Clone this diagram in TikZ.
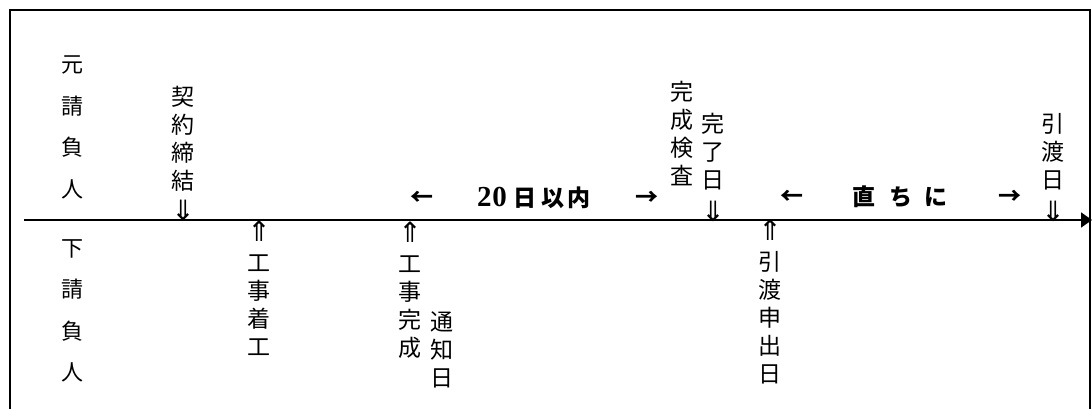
\documentclass[tikz,border=0pt]{standalone}
\usepackage{fontspec}
\usetikzlibrary{arrows.meta}
\newfontfamily\jp{Noto Sans CJK JP}
\newfontfamily\digf{Liberation Serif}
\newfontfamily\symf{DejaVu Sans}
\tikzset{
  frame/.style={line width=1.6pt},
  timeline/.style={line width=1.8pt,-{Triangle[length=11pt,width=15pt]}},
  col/.style={font=\jp\fontsize{23}{28}\selectfont, align=center, inner sep=0pt, text width=26pt},
  party/.style={col, font=\jp\fontsize{22}{41.5}\selectfont},
  darrow/.style={font=\symf\fontsize{28}{28}\selectfont, inner sep=0pt},
  span/.style={font=\jp\bfseries\fontsize{23}{23}\selectfont, inner sep=0pt},
}
\begin{document}
\begin{tikzpicture}[x=1pt,y=-1pt]
\useasboundingbox (0,0) rectangle (1092,409);
\draw[frame] (10,409) -- (10,10) -- (1090,10) -- (1090,409);
\coordinate (t0) at (24,220);
\coordinate (t1) at (1092,220);
\draw[timeline] (t0) -- (t1);
% parties
\node[party] (moto) at (72,127.5) {元\\請\\負\\人};
\node[party] (shita) at (72,311) {下\\請\\負\\人};
% contract
\node[col] (keiyaku) at (183,138.5) {契\\約\\締\\結};
\node[darrow] (a1) at (183,210) {⇓};
% start of work
\node[darrow] (a2) at (259,231) {⇑};
\node[col] (chakko) at (259,305.5) {工\\事\\着\\工};
% completion notice
\node[darrow] (a3) at (410,232) {⇑};
\node[col] (kansei) at (410,307.5) {工\\事\\完\\成};
\node[col] (tsuchi) at (442,349.5) {通\\知\\日};
% 20 days
\node[span] (l1) at (422,198) {←};
\node[span] (d20) at (534,198) {{\digf\bfseries\fontsize{29}{29}\selectfont 2\hspace{1pt}0}\hspace{6pt}日\hspace{6pt}以\hspace{3pt}内};
\node[span] (r1) at (647,198) {→};
% inspection
\node[col] (kensa) at (682,134) {完\\成\\検\\査};
\node[col] (kanryo) at (713,151.5) {完\\了\\日};
\node[darrow] (a4) at (713,211) {⇓};
% handover request
\node[darrow] (a5) at (770,230) {⇑};
\node[col] (moshide) at (770,318) {引\\渡\\申\\出\\日};
% immediately
\node[span] (l2) at (792,197) {←};
\node[span] (sugu) at (900,197) {直\hspace{14pt}ち\hspace{12pt}に};
\node[span] (r2) at (1010,197) {→};
% handover day
\node[col] (hikiwatashi) at (1053,151.5) {引\\渡\\日};
\node[darrow] (a6) at (1053,211) {⇓};
\end{tikzpicture}
\end{document}
